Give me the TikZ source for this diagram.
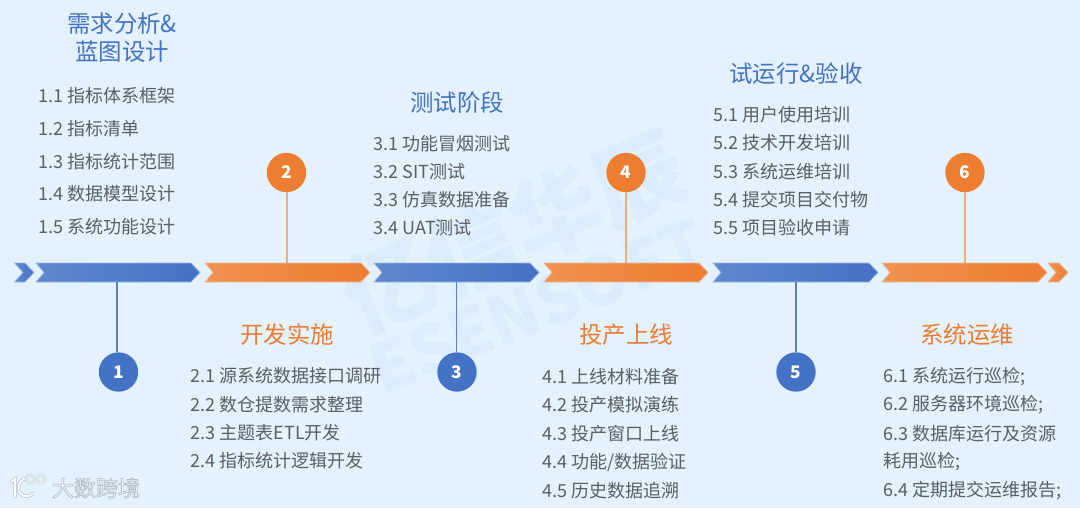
\documentclass[tikz,border=0pt]{standalone}
\usepackage{fontspec}
\setmainfont{Noto Sans CJK SC}
\definecolor{bgc}{HTML}{E3F2FE}
\definecolor{wmc}{HTML}{DBECFC}
\definecolor{bluec}{HTML}{4472C4}
\definecolor{bluel}{HTML}{5F88CE}
\definecolor{orangec}{HTML}{ED7D31}
\definecolor{orangel}{HTML}{F0924F}
\definecolor{txtc}{HTML}{5A5F63}
\definecolor{logoc}{HTML}{FAFCFE}
\definecolor{halo}{HTML}{B4BEC8}
\tikzset{
  x=0.75pt,y=-0.75pt,
  item/.style={anchor=west,inner sep=0pt,text=txtc,font=\fontsize{13.5pt}{15pt}\selectfont},
  tblue/.style={anchor=center,inner sep=0pt,text=bluec,align=center,font=\fontsize{17.6pt}{21pt}\selectfont},
  torange/.style={anchor=center,inner sep=0pt,text=orangec,align=center,font=\fontsize{17.6pt}{21pt}\selectfont},
  numb/.style={circle,fill=bluec,text=white,minimum size=29.5pt,inner sep=0pt,font=\fontsize{13pt}{15pt}\selectfont\bfseries},
  numo/.style={circle,fill=orangec,text=white,minimum size=29.5pt,inner sep=0pt,font=\fontsize{13pt}{15pt}\selectfont\bfseries},
  linkb/.style={draw=bluec!90!white,line width=1.1pt},
  linko/.style={draw=orangec!65!white,line width=1.1pt},
  edgeb/.style={draw=bluec!45!bgc,line width=0.6pt,left color=bluel,right color=bluec},
  edgeo/.style={draw=orangec!45!bgc,line width=0.6pt,left color=orangel,right color=orangec},
  wm/.style={inner sep=0pt,text=wmc,font=\fontsize{#1}{#1}\selectfont\bfseries},
  logoline/.style={draw=halo,double=logoc,line cap=round},
}
\newcommand{\chev}[3]{% left, right, style
  \path[#3] (#1,263) -- (#2-9,263) -- (#2,272.5) -- (#2-9,282) -- (#1,282) -- (#1+8,272.5) -- cycle;
}
\newcommand{\gapx}{\hspace{0.02em} }
\begin{document}
\begin{tikzpicture}
\useasboundingbox (0,0) rectangle (1080,508);
\fill[bgc] (0,0) rectangle (1080,508);
% watermark
\node[wm=68pt,rotate=23] (wm1) at (514,232) {亿信华辰};
\node[wm=50pt,rotate=22] (wm2) at (538,306) {ESENSOFT};
% logo
\draw[logoline,double distance=1.4pt,line width=0.5pt] (11,482) -- (15,479) -- (15,497);
\draw[logoline,double distance=1.4pt,line width=0.5pt] (33,493.5) .. controls (27,499) and (18.5,496) .. (18.5,488.5) .. controls (18.5,482) and (23,478) .. (26,479);
\draw[logoline,double distance=0.8pt,line width=0.4pt] (30,479) circle[radius=4.2];
\draw[logoline,double distance=0.8pt,line width=0.4pt] (41,479) circle[radius=4.2];
\node[inner sep=0pt,text=logoc,font=\fontsize{16.5pt}{17pt}\selectfont] (logo) at (96,488) {\special{pdf:code 2 Tr 0.55 w 0.70 0.74 0.78 RG}大数跨境\special{pdf:code 0 Tr}};
% arrows
\path[edgeb] (14.5,263) -- (25,263) -- (34,272.5) -- (25,282) -- (14.5,282) -- (23,272.5) -- cycle;
\chev{36}{200}{edgeb}
\chev{205}{370}{edgeo}
\chev{374}{539}{edgeb}
\chev{544}{708}{edgeo}
\chev{713}{878}{edgeb}
\chev{882}{1047}{edgeo}
\path[edgeo] (1048,263) -- (1059,263) -- (1068,272.5) -- (1059,282) -- (1048,282) -- (1056,272.5) -- cycle;
% anchors on the bars
\coordinate (b1) at (117,282);
\coordinate (b2) at (287,263);
\coordinate (b3) at (456.5,282);
\coordinate (b4) at (626,263);
\coordinate (b5) at (796,282);
\coordinate (b6) at (965,263);
% number circles
\node[numb] (n1) at (118.5,372) {1};
\node[numo] (n2) at (286.5,172.5) {2};
\node[numb] (n3) at (457,372) {3};
\node[numo] (n4) at (626,172.5) {4};
\node[numb] (n5) at (796,372) {5};
\node[numo] (n6) at (965,172.5) {6};
\draw[linkb] (b1) -- (b1 |- n1.north);
\draw[linko] (b2) -- (b2 |- n2.south);
\draw[linkb] (b3) -- (b3 |- n3.north);
\draw[linko] (b4) -- (n4);
\draw[linkb] (b5) -- (n5);
\draw[linko] (b6) -- (n6);
% titles
\node[tblue] (t1) at (122,38) {需求分析\&\\蓝图设计};
\node[torange] (t2) at (287,335) {开发实施};
\node[tblue] (t3) at (457,103) {测试阶段};
\node[torange] (t4) at (626,335) {投产上线};
\node[tblue] (t5) at (796,74) {试运行\&验收};
\node[torange] (t6) at (967,335) {系统运维};
% lists
\node[item] (a1) at (38,96) {1.1\gapx 指标体系框架};
\node[item] (a2) at (38,128.5) {1.2\gapx 指标清单};
\node[item] (a3) at (38,161.5) {1.3\gapx 指标统计范围};
\node[item] (a4) at (38,194) {1.4\gapx 数据模型设计};
\node[item] (a5) at (38,227) {1.5\gapx 系统功能设计};
\node[item] (c1) at (190,376) {2.1\gapx 源系统数据接口调研};
\node[item] (c2) at (190,404.5) {2.2\gapx 数仓提数需求整理};
\node[item] (c3) at (190,433) {2.3\gapx 主题表ETL开发};
\node[item] (c4) at (190,461) {2.4\gapx 指标统计逻辑开发};
\node[item] (d1) at (373,143.5) {3.1\gapx 功能冒烟测试};
\node[item] (d2) at (373,171.5) {3.2\gapx SIT测试};
\node[item] (d3) at (373,200) {3.3\gapx 仿真数据准备};
\node[item] (d4) at (373,228) {3.4\gapx UAT测试};
\node[item] (e1) at (542,376.5) {4.1\gapx 上线材料准备};
\node[item] (e2) at (542,405) {4.2\gapx 投产模拟演练};
\node[item] (e3) at (542,433.5) {4.3\gapx 投产窗口上线};
\node[item] (e4) at (542,462) {4.4\gapx 功能/数据验证};
\node[item] (e5) at (542,490.5) {4.5\gapx 历史数据追溯};
\node[item] (f1) at (713,115) {5.1\gapx 用户使用培训};
\node[item] (f2) at (713,143) {5.2\gapx 技术开发培训};
\node[item] (f3) at (713,171.5) {5.3\gapx 系统运维培训};
\node[item] (f4) at (713,200) {5.4\gapx 提交项目交付物};
\node[item] (f5) at (713,228) {5.5\gapx 项目验收申请};
\node[item] (g1) at (883,376.5) {6.1\gapx 系统运行巡检;};
\node[item] (g2) at (883,405) {6.2\gapx 服务器环境巡检;};
\node[item] (g3) at (883,433.5) {6.3\gapx 数据库运行及资源};
\node[item] (g3b) at (883,462) {耗用巡检;};
\node[item] (g4) at (883,490.5) {6.4\gapx 定期提交运维报告;};
\end{tikzpicture}
\end{document}
